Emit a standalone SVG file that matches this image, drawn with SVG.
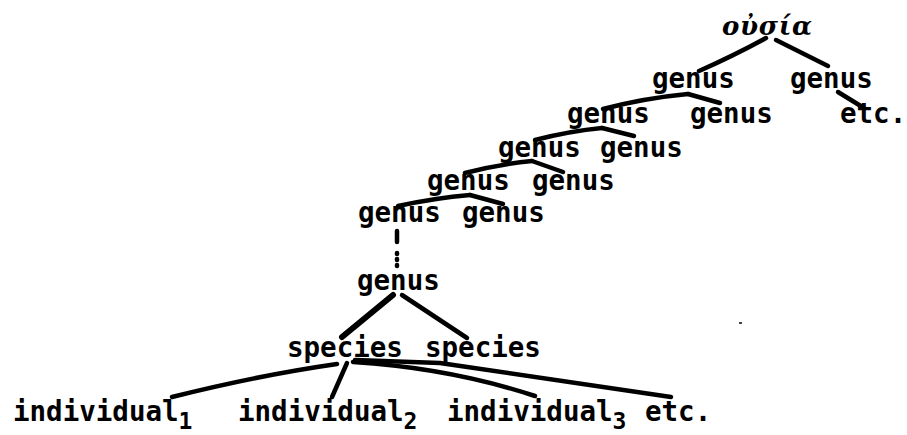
<svg xmlns="http://www.w3.org/2000/svg" width="907" height="435" viewBox="0 0 907 435">
<style>
text{font-family:"DejaVu Sans Mono","Liberation Mono",monospace;font-weight:bold;font-size:27.5px;fill:#000}
.gk{font-family:"DejaVu Serif","Liberation Serif",serif;font-style:italic;font-size:26px}
.sub{font-size:23px}
#connectors path{fill:none;stroke:#000;stroke-width:4.5;stroke-linecap:round;stroke-linejoin:round}
#connectors .thick{stroke-width:6}
</style>
<rect width="907" height="435" fill="#fff"/>
<g id="connectors">
<path d="M766 38 Q735 55 699 71"/>
<path d="M776 40 L828 66"/>
<path d="M838 92 L864 108"/>
<path d="M688 94 Q645 98 603 109"/>
<path d="M688 94 L720 103"/>
<path d="M602 128 Q570 131 535 140"/>
<path d="M602 128 L634 136"/>
<path d="M532 161 Q500 164 465 173"/>
<path d="M532 161 L563 172"/>
<path d="M470 195 Q435 198 398 206"/>
<path d="M470 195 L503 204"/>
<path d="M397 231 L397 242"/>
<path d="M397 253 L397 254"/>
<path d="M397 259 L397 260"/>
<path d="M397 265 L397 266"/>
<path class="thick" d="M393 295 L342 337"/>
<path d="M402 295 L467 338"/>
<path d="M337 364 Q260 375 172 397"/>
<path d="M347 363 L332 397"/>
<path d="M353 362 Q450 368 535 396"/>
<path d="M355 360 L440 363 L671 397"/>
</g>
<g id="ousia"><text class="gk" x="722" y="35" textLength="90">οὐσία</text></g>
<g id="genus-1a"><text x="652" y="88">genus</text></g>
<g id="genus-1b"><text x="790" y="88">genus</text></g>
<g id="genus-2a"><text x="567" y="123">genus</text></g>
<g id="genus-2b"><text x="690" y="123">genus</text></g>
<g id="etc-2"><text x="840" y="123">etc.</text></g>
<g id="genus-3a"><text x="498" y="157">genus</text></g>
<g id="genus-3b"><text x="600" y="157">genus</text></g>
<g id="genus-4a"><text x="427" y="190">genus</text></g>
<g id="genus-4b"><text x="532" y="190">genus</text></g>
<g id="genus-5a"><text x="358" y="222">genus</text></g>
<g id="genus-5b"><text x="462" y="222">genus</text></g>
<g id="genus-6"><text x="357" y="290">genus</text></g>
<g id="species-1"><text x="287" y="357">species</text></g>
<g id="species-2"><text x="425" y="357">species</text></g>
<g id="individual-1"><text x="13" y="421">individual<tspan class="sub" dy="8">1</tspan></text></g>
<g id="individual-2"><text x="238" y="421">individual<tspan class="sub" dy="8">2</tspan></text></g>
<g id="individual-3"><text x="447" y="421">individual<tspan class="sub" dy="8">3</tspan></text></g>
<g id="etc-bottom"><text x="645" y="421">etc.</text></g>
<rect x="739" y="322" width="3" height="2" fill="#444"/>
</svg>
